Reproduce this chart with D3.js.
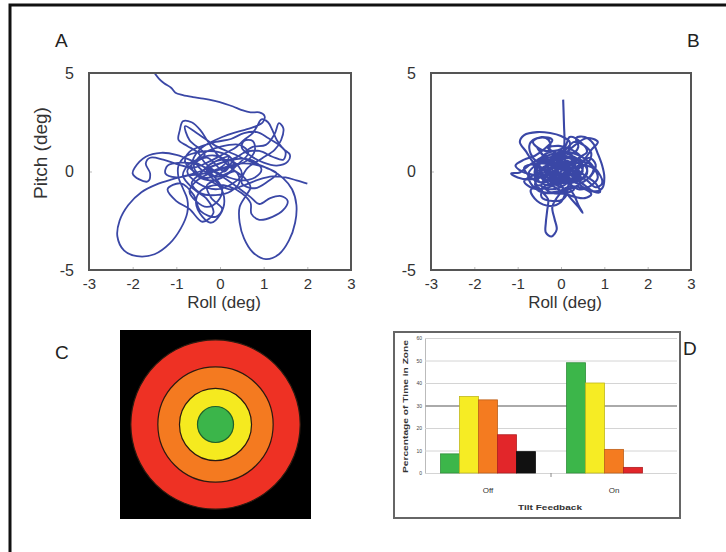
<!DOCTYPE html>
<html lang="en">
  <head>
    <meta charset="UTF-8" />
    <title>Tilt feedback: trunk sway and time in zone</title>
    <script src="https://d3js.org/d3.v7.min.js"></script>
    <style>
      body { margin: 0; background: #fff; }
      svg { font-family: "Liberation Sans", Arial, sans-serif; }
    </style>
  </head>
  <body>
    <div id="chart"></div>

    <script>
      // Axis ticks of the two sway plots
      const rollTicks = [-3, -2, -1, 0, 1, 2, 3];
      const pitchTicks = [-5, 0, 5];

      // Sway trace without feedback (roll, pitch) in degrees
      const traceOff = [
        [-1.5, 5.0], [-1.4, 4.72], [-1.28, 4.48], [-1.12, 4.25], [-1.02, 4.0], [-0.85, 3.88],
        [-0.62, 3.78], [-0.38, 3.7], [-0.12, 3.58], [0.1, 3.45], [0.3, 3.3], [0.5, 3.12],
        [0.7, 3.0], [0.9, 3.0], [1.02, 2.82], [0.98, 2.5], [0.8, 2.28], [0.55, 2.1],
        [0.3, 1.95], [0.05, 1.75], [-0.2, 1.5], [-0.45, 1.15], [-0.6, 0.7], [-0.65, 0.2],
        [-0.5, -0.25], [-0.2, -0.45], [0.1, -0.25], [0.3, 0.2], [0.25, 0.7], [-0.05, 1.0],
        [-0.45, 1.0], [-0.8, 0.75], [-0.95, 0.3], [-0.95, -0.3], [-0.85, -0.85], [-0.75, -1.4],
        [-0.75, -2.1], [-0.9, -2.9], [-1.15, -3.65], [-1.5, -4.2], [-1.9, -4.3], [-2.2, -4.0],
        [-2.35, -3.3], [-2.3, -2.5], [-2.1, -1.7], [-1.8, -1.05], [-1.45, -0.65], [-1.1, -0.4],
        [-0.75, -0.2], [-0.4, 0.05], [-0.1, 0.35], [0.2, 0.55], [0.5, 0.65], [0.8, 0.5],
        [0.95, 0.1], [0.8, -0.3], [0.5, -0.45], [0.2, -0.3], [-0.1, 0.0], [-0.35, 0.45],
        [-0.5, 0.95], [-0.75, 1.3], [-0.95, 1.6], [-0.92, 2.1], [-0.85, 2.55], [-0.65, 2.5],
        [-0.45, 2.1], [-0.3, 1.6], [-0.15, 1.1], [0.05, 0.6], [0.3, 0.1], [0.55, -0.3],
        [0.7, -0.8], [0.6, -1.2], [0.45, -1.8], [0.45, -2.6], [0.55, -3.4], [0.75, -4.1],
        [1.05, -4.45], [1.35, -4.2], [1.58, -3.5], [1.72, -2.6], [1.75, -1.7], [1.65, -0.9],
        [1.45, -0.35], [1.15, 0.1], [0.8, 0.35], [0.45, 0.4], [0.1, 0.2], [-0.25, -0.1],
        [-0.55, -0.5], [-0.7, -1.0], [-0.55, -1.5], [-0.3, -1.8], [-0.05, -1.5], [0.05, -0.9],
        [-0.1, -0.35], [-0.35, 0.2], [-0.65, 0.55], [-1.0, 0.85], [-1.35, 0.95], [-1.7, 0.75],
        [-1.95, 0.2], [-2.0, -0.1], [-1.85, -0.4], [-1.65, -0.5], [-1.6, -0.1], [-1.7, 0.4],
        [-1.6, 0.7], [-1.3, 0.6], [-0.95, 0.35], [-0.6, 0.2], [-0.25, 0.5], [0.05, 0.85],
        [0.35, 1.2], [0.55, 1.6], [0.75, 1.95], [0.85, 2.3], [0.95, 2.65], [1.1, 2.5],
        [1.2, 2.1], [1.3, 1.6], [1.45, 1.15], [1.6, 0.85], [1.55, 0.5], [1.3, 0.3],
        [1.0, 0.45], [0.7, 0.8], [0.5, 1.2], [0.55, 1.55], [0.75, 1.55], [0.8, 1.1],
        [0.65, 0.6], [0.35, 0.3], [0.0, 0.1], [-0.35, -0.1], [-0.7, -0.2], [-1.0, -0.3],
        [-1.25, -0.1], [-1.2, 0.3], [-0.9, 0.45], [-0.5, 0.35], [-0.15, 0.0], [0.15, -0.4],
        [0.4, -0.8], [0.7, -1.3], [0.9, -1.65], [1.15, -1.35], [1.4, -1.25], [1.55, -1.5],
        [1.45, -1.95], [1.2, -2.3], [0.9, -2.45], [0.72, -2.15], [0.7, -1.6], [0.5, -1.1],
        [0.2, -0.75], [-0.15, -0.7], [-0.45, -1.0], [-0.55, -1.6], [-0.4, -2.3], [-0.2, -2.6],
        [0.0, -2.2], [0.1, -1.5], [0.0, -0.8], [-0.3, -0.4], [-0.6, 0.0], [-0.8, 0.5],
        [-0.7, 1.0], [-0.4, 1.3], [-0.1, 1.5], [0.25, 1.65], [0.55, 1.95], [0.85, 2.0],
        [1.1, 1.7], [1.35, 1.35], [1.5, 1.0], [1.45, 0.6], [1.2, 0.75], [0.9, 1.05],
        [0.55, 0.95], [0.3, 0.55], [0.1, 0.0], [-0.3, 0.7], [-0.6, 0.3], [-0.4, -0.3],
        [0.0, -0.1], [0.2, 0.4], [-0.1, 0.8], [-0.5, 0.6], [-0.75, 0.0], [-0.5, -0.6],
        [-0.1, -0.9], [0.3, -0.6], [0.5, -0.1], [0.3, 0.5], [-0.05, 0.55], [-0.3, 0.2],
        [-0.15, -0.25], [0.2, -0.05], [0.4, 0.35], [0.65, 0.95], [0.45, 1.35], [0.0, 1.25],
        [-0.35, 0.95], [-0.55, 0.5], [-0.35, 0.0], [0.05, 0.25], [0.2, 0.75], [-0.2, 0.4],
        [-0.45, -0.1], [-0.65, -0.6], [-0.45, -1.1], [-0.1, -1.2], [0.25, -1.0], [0.45, -0.5],
        [0.35, 0.0], [0.0, -0.35], [-0.3, -0.7], [-0.2, -1.35], [0.05, -1.9], [-0.1, -2.3],
        [-0.45, -2.0], [-0.6, -1.2], [-0.9, -0.6], [-1.2, -0.9], [-1.0, -1.5], [-0.7, -1.9],
        [-0.4, -2.55], [-0.15, -2.1], [-0.3, -1.4], [-0.6, -0.9], [-0.85, -0.2], [-0.7, 0.4],
        [-0.35, 0.85], [-0.7, 1.6], [-0.8, 2.3], [-0.5, 1.9], [-0.1, 1.3], [0.3, 0.9],
        [0.7, 0.5], [1.05, 0.2], [1.3, -0.1], [1.1, -0.5], [0.8, -0.85], [0.5, -0.6],
        [0.6, 0.1], [0.95, 0.65], [1.25, 1.1], [1.4, 1.6], [1.45, 2.2], [1.35, 2.45],
        [1.25, 1.9], [1.05, 1.35], [0.75, 1.25], [0.4, 0.75], [0.05, 0.45], [-0.3, 0.05],
        [-0.1, -0.5], [0.2, -0.9], [0.55, -0.7], [0.9, -0.4], [1.2, -0.25], [1.5, -0.3],
        [1.75, -0.45], [2.0, -0.62]
      ];

      // Sway trace with feedback
      const traceOn = [
        [0.05, 3.65], [0.06, 3.0], [0.07, 2.3], [0.08, 1.6], [0.05, 1.0], [-0.1, 0.6],
        [-0.3, 0.4], [-0.55, 0.5], [-0.7, 0.9], [-0.72, 1.4], [-0.6, 1.65], [-0.35, 1.7],
        [-0.25, 1.45], [-0.3, 1.0], [-0.5, 0.65], [-0.75, 0.3], [-0.95, -0.05], [-1.15, -0.1],
        [-1.0, -0.3], [-0.75, -0.4], [-0.5, -0.3], [-0.2, 0.0], [0.1, 0.35], [0.35, 0.6],
        [0.55, 0.45], [0.6, 0.0], [0.45, -0.4], [0.15, -0.6], [-0.15, -0.5], [-0.4, -0.15],
        [-0.5, 0.3], [-0.35, 0.75], [-0.05, 0.95], [0.25, 0.9], [0.4, 1.25], [0.35, 1.7],
        [0.55, 1.75], [0.75, 1.4], [0.85, 0.9], [0.95, 0.3], [1.0, -0.3], [0.95, -0.85],
        [0.75, -1.0], [0.55, -0.7], [0.3, -0.3], [0.0, 0.1], [-0.3, 0.2], [-0.55, 0.0],
        [-0.6, -0.5], [-0.45, -1.0], [-0.3, -1.4], [-0.32, -2.0], [-0.35, -2.6], [-0.35, -3.1],
        [-0.22, -3.3], [-0.1, -2.95], [-0.15, -2.4], [-0.2, -1.8], [-0.05, -1.2], [0.15, -0.8],
        [0.3, -1.2], [0.4, -1.7], [0.5, -2.1], [0.4, -1.8], [0.2, -1.3], [0.0, -0.7],
        [-0.2, -0.25], [-0.45, 0.2], [-0.65, 0.5], [-0.8, 1.0], [-0.95, 1.5], [-0.85, 1.85],
        [-0.55, 2.0], [-0.25, 1.95], [0.0, 1.8], [0.2, 1.5], [0.15, 1.0], [-0.1, 0.7],
        [-0.4, 0.5], [-0.6, 0.1], [-0.55, -0.4], [-0.3, -0.7], [0.0, -0.6], [0.3, -0.35],
        [0.5, 0.1], [0.45, 0.55], [0.2, 0.7], [-0.1, 0.45], [-0.25, 0.0], [-0.1, -0.4],
        [0.2, -0.2], [0.4, 0.25], [0.65, 0.7], [0.8, 0.35], [0.7, -0.2], [0.5, -0.55],
        [0.2, -0.9], [-0.15, -1.1], [-0.5, -1.0], [-0.7, -0.6], [-0.75, -0.1], [-0.55, 0.35],
        [-0.2, 0.55], [0.15, 0.45], [0.35, 0.05], [0.25, -0.45], [-0.05, -0.35], [-0.3, 0.1],
        [-0.2, 0.6], [0.1, 1.1], [0.3, 1.5], [0.55, 1.3], [0.7, 0.9], [0.6, 0.4],
        [0.3, 0.2], [0.0, 0.3], [-0.35, 0.7], [-0.55, 1.2], [-0.45, 0.9], [-0.15, 0.2],
        [0.1, -0.4], [0.4, -0.9], [0.7, -0.7], [0.85, -0.3], [0.75, 0.15], [0.45, 0.3],
        [0.15, 0.0], [-0.1, -0.6], [-0.35, -0.85], [-0.65, -0.85], [-0.85, -0.5], [-0.65, -0.2],
        [-0.3, -0.05], [0.05, -0.15], [0.35, -0.55], [0.6, -0.9], [0.9, -1.05], [0.8, -0.6],
        [0.55, -0.2], [0.2, 0.4], [-0.1, 0.9], [-0.3, 1.2], [-0.05, 1.3], [0.25, 1.1],
        [0.45, 0.75], [0.25, 0.35], [-0.05, 0.1], [-0.35, -0.3], [-0.45, -0.75], [-0.2, -0.9],
        [0.1, -0.65], [0.3, -0.1], [0.1, 0.3], [-0.15, 0.3], [-0.05, -0.1], [0.2, 0.1],
        [0.35, 0.5], [0.1, 0.8], [-0.25, 0.85], [-0.5, 0.55], [-0.6, 0.15], [-0.4, -0.25],
        [-0.05, -0.4], [0.25, -0.15], [0.45, 0.3], [0.3, 0.75], [-0.05, 0.6], [-0.3, 0.35],
        [-0.35, -0.05], [-0.15, -0.35], [0.15, -0.5], [0.45, -0.45], [0.6, -0.1], [0.55, 0.3],
        [0.3, 0.45], [0.0, 0.5], [-0.25, 0.2], [-0.45, -0.2], [-0.6, -0.65], [-0.4, -1.05],
        [-0.05, -1.0], [0.25, -0.75], [0.5, -0.85], [0.7, -1.15], [0.55, -1.35], [0.2, -1.2],
        [-0.1, -0.85], [-0.35, -0.5], [-0.55, -0.1], [-0.5, 0.45], [-0.2, 0.75], [0.15, 0.7],
        [0.4, 0.4], [0.5, 0.0], [0.3, -0.4], [0.0, -0.25], [-0.2, 0.1], [-0.05, 0.45],
        [0.2, 0.25], [0.1, -0.15], [-0.2, -0.15], [-0.45, 0.1], [-0.65, 0.35], [-0.85, 0.2],
        [-0.7, -0.3], [-0.4, -0.55], [-0.1, -0.15], [0.15, 0.15], [0.35, -0.15], [0.6, -0.45],
        [0.8, -0.8], [0.95, -0.6], [0.85, 0.0], [0.65, 0.4], [0.4, 0.65], [0.6, 1.0],
        [0.45, 1.5], [0.2, 1.75], [0.1, 1.3], [-0.15, 1.05], [-0.45, 1.1], [-0.65, 1.5],
        [-0.45, 1.75], [-0.2, 1.6], [-0.35, 1.2], [-0.6, 0.8], [-0.85, 0.6], [-1.05, 0.3],
        [-0.9, 0.0], [-0.6, -0.2], [-0.3, -0.45], [-0.1, -0.7], [0.15, -1.0], [0.05, -1.4],
        [-0.2, -1.5], [-0.45, -1.3], [-0.4, -0.8], [-0.15, -0.55], [0.1, -0.35], [0.4, -0.6],
        [0.65, -0.3], [0.75, 0.2], [0.55, 0.65], [0.25, 0.95], [-0.1, 1.05], [-0.4, 0.8],
        [-0.3, 0.4], [0.0, 0.15], [0.3, 0.05], [0.5, 0.5], [0.7, 1.1], [0.85, 1.5],
        [0.6, 1.7], [0.3, 1.3], [0.05, 0.8], [-0.2, 0.45], [-0.5, 0.05], [-0.3, -0.3],
        [0.05, -0.5], [0.3, -0.9], [0.1, -1.1], [-0.25, -1.05], [-0.5, -0.7], [-0.7, -0.95],
        [-0.55, -1.5], [-0.25, -1.75], [0.0, -1.55], [0.2, -0.6], [0.45, -0.25], [0.2, 0.15],
        [-0.1, 0.25], [-0.25, 0.6], [0.0, 0.95], [0.3, 0.7], [0.15, 0.35], [-0.15, 0.0],
        [0.05, -0.3], [0.3, 0.3], [0.1, 0.55], [-0.1, 0.15]
      ];

      // Target zones (panel C): outer edge of each ring, outermost first
      const ringEdges = [4.7, 3.2, 2.0, 1.0];
      const ringColors = ["#ee3124", "#f47a20", "#f5ea1f", "#3bb54a"];

      // Time in zone (panel D)
      const feedback = ["Off", "On"];
      const zones = ["Green", "Yellow", "Orange", "Red", "Black"];
      const zoneColors = ["#3cb64a", "#f6ec24", "#f47b20", "#e2262a", "#111111"];
      const pctOff = [8.5, 34, 32.5, 17, 9.5];
      const pctOn = [49, 40, 10.5, 2.5, 0];
      const pctTicks = [0, 10, 20, 30, 40, 50, 60];

      const svg = d3
        .select("#chart")
        .append("svg")
        .attr("width", 726)
        .attr("height", 552);

      // outer frame (runs off the right and bottom edge)
      svg
        .append("rect")
        .attr("x", 10)
        .attr("y", 5)
        .attr("width", 780)
        .attr("height", 620)
        .attr("fill", "none")
        .attr("stroke", "#111")
        .attr("stroke-width", 3);

      function letter(txt, x, y) {
        svg
          .append("text")
          .attr("x", x)
          .attr("y", y)
          .attr("font-size", 19)
          .attr("fill", "#222")
          .text(txt);
      }

      // ---- panels A and B: sway traces ----
      function swayPanel(id, left, right, data, withYTitle, lineWidth) {
        const top = 73, bottom = 270;
        const x = d3.scaleLinear().domain([-3, 3]).range([left, right]);
        const y = d3.scaleLinear().domain([-5, 5]).range([bottom, top]);
        const g = svg.append("g");

        g.append("clipPath")
          .attr("id", "clip" + id)
          .append("rect")
          .attr("x", left)
          .attr("y", top)
          .attr("width", right - left)
          .attr("height", bottom - top);

        // small inner ticks
        g.append("g")
          .attr("transform", `translate(0,${bottom})`)
          .call(d3.axisBottom(x).tickValues(rollTicks).tickSize(-3).tickFormat(""))
          .call((a) => a.select(".domain").remove())
          .selectAll("line")
          .attr("stroke", "#bbb");
        g.append("g")
          .attr("transform", `translate(${left},0)`)
          .call(d3.axisLeft(y).tickValues(pitchTicks).tickSize(-3).tickFormat(""))
          .call((a) => a.select(".domain").remove())
          .selectAll("line")
          .attr("stroke", "#bbb");

        g.append("path")
          .datum(data)
          .attr("clip-path", `url(#clip${id})`)
          .attr("fill", "none")
          .attr("stroke", "#3a47a6")
          .attr("stroke-width", lineWidth)
          .attr("stroke-linejoin", "round")
          .attr(
            "d",
            d3
              .line()
              .x((d) => x(d[0]))
              .y((d) => y(d[1]))
              .curve(d3.curveCatmullRom.alpha(0.5))
          );

        g.append("rect")
          .attr("x", left)
          .attr("y", top)
          .attr("width", right - left)
          .attr("height", bottom - top)
          .attr("fill", "none")
          .attr("stroke", "#555")
          .attr("stroke-width", 2);

        const xa = g
          .append("g")
          .attr("transform", `translate(0,${bottom})`)
          .call(
            d3.axisBottom(x).tickValues(rollTicks).tickFormat((d) => String(d)).tickSize(0).tickPadding(8)
          );
        xa.select(".domain").remove();
        xa.selectAll("text").attr("font-size", 15).attr("fill", "#333");

        const ya = g
          .append("g")
          .attr("transform", `translate(${left},0)`)
          .call(
            d3.axisLeft(y).tickValues(pitchTicks).tickFormat((d) => String(d)).tickSize(0).tickPadding(15)
          );
        ya.select(".domain").remove();
        ya.selectAll("text").attr("font-size", 16).attr("fill", "#333");

        g.append("text")
          .attr("x", (left + right) / 2 + 4)
          .attr("y", 308)
          .attr("text-anchor", "middle")
          .attr("font-size", 17)
          .attr("fill", "#333")
          .text("Roll (deg)");

        if (withYTitle) {
          g.append("text")
            .attr("transform", "translate(47,153) rotate(-90)")
            .attr("text-anchor", "middle")
            .attr("font-size", 19)
            .attr("fill", "#333")
            .text("Pitch (deg)");
        }
      }

      swayPanel("A", 89, 351, traceOff, true, 1.8);
      swayPanel("B", 431, 691, traceOn, false, 2.1);

      // ---- panel C: target zones ----
      const cx = 215.5, cy = 424.5;
      const r = d3.scaleLinear().domain([0, 5.3]).range([0, 95.5]);
      svg
        .append("rect")
        .attr("x", 120)
        .attr("y", 330)
        .attr("width", 191)
        .attr("height", 189)
        .attr("fill", "#000");
      svg
        .append("g")
        .selectAll("circle")
        .data(ringEdges)
        .join("circle")
        .attr("cx", cx)
        .attr("cy", cy)
        .attr("r", (d) => r(d))
        .attr("fill", (d, i) => ringColors[i])
        .attr("stroke", (d, i) => (i === ringEdges.length - 1 ? "#1f5e2a" : "#2a1a10"))
        .attr("stroke-width", 1.2);

      // ---- panel D: percentage of time in zone ----
      svg
        .append("rect")
        .attr("x", 394)
        .attr("y", 332)
        .attr("width", 286)
        .attr("height", 186)
        .attr("fill", "#fff")
        .attr("stroke", "#666")
        .attr("stroke-width", 2);

      const x0 = d3.scaleBand().domain(feedback).range([425, 677]);
      const x1 = d3
        .scaleBand()
        .domain(zones)
        .range([0, x0.bandwidth()])
        .paddingInner(0)
        .paddingOuter(0.82);
      const yD = d3.scaleLinear().domain([0, 60]).range([473, 338]);

      const grid = svg
        .append("g")
        .attr("transform", "translate(425,0)")
        .call(d3.axisLeft(yD).tickValues(pctTicks).tickSize(-(677 - 425)).tickPadding(3));
      grid.select(".domain").attr("stroke", "#bbb");
      grid
        .selectAll(".tick line")
        .attr("stroke", (d) => (d === 30 ? "#aaa" : "#d4d4d4"))
        .attr("stroke-width", (d) => (d === 30 ? 2 : 1));
      grid.selectAll("text").attr("font-size", 5).attr("fill", "#444");

      const rows = feedback.map((f, i) => ({
        group: f,
        values: zones.map((z, j) => ({ zone: z, value: i === 0 ? pctOff[j] : pctOn[j] })),
      }));

      svg
        .append("g")
        .selectAll("g")
        .data(rows)
        .join("g")
        .attr("transform", (d) => `translate(${x0(d.group)},0)`)
        .selectAll("rect")
        .data((d) => d.values.filter((v) => v.value > 0))
        .join("rect")
        .attr("x", (d) => x1(d.zone))
        .attr("y", (d) => yD(d.value))
        .attr("width", x1.bandwidth())
        .attr("height", (d) => yD(0) - yD(d.value))
        .attr("fill", (d) => zoneColors[zones.indexOf(d.zone)])
        .attr("stroke", (d) => d3.color(zoneColors[zones.indexOf(d.zone)]).darker(0.7))
        .attr("stroke-width", 0.8);

      // category boundary tick
      svg
        .append("line")
        .attr("x1", x0("On"))
        .attr("x2", x0("On"))
        .attr("y1", yD(0))
        .attr("y2", yD(0) + 4)
        .attr("stroke", "#888");

      const xaD = svg
        .append("g")
        .attr("transform", `translate(0,${yD(0)})`)
        .call(d3.axisBottom(x0).tickSize(0).tickPadding(14));
      xaD.select(".domain").remove();
      xaD.selectAll("text").attr("font-size", 8).attr("fill", "#333");

      svg
        .append("text")
        .attr("x", 550)
        .attr("y", 510)
        .attr("text-anchor", "middle")
        .attr("font-size", 8)
        .attr("font-weight", "bold")
        .attr("fill", "#333")
        .attr("textLength", 64)
        .attr("lengthAdjust", "spacingAndGlyphs")
        .text("Tilt Feedback");

      svg
        .append("text")
        .attr("transform", "translate(408,406.5) rotate(-90)")
        .attr("text-anchor", "middle")
        .attr("font-size", 8)
        .attr("font-weight", "bold")
        .attr("fill", "#333")
        .attr("textLength", 133)
        .attr("lengthAdjust", "spacingAndGlyphs")
        .text("Percentage of Time in Zone");

      letter("A", 55, 47);
      letter("B", 687, 47);
      letter("C", 55, 359);
      letter("D", 683, 355);
    </script>
  </body>
</html>
